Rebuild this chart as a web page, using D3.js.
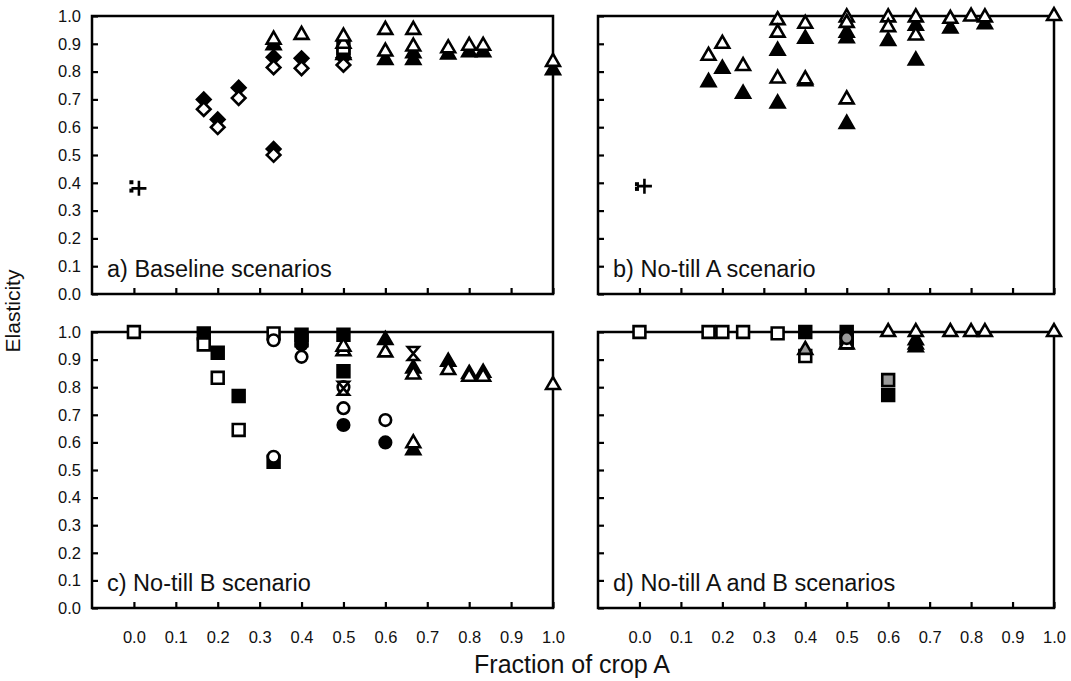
<!DOCTYPE html>
<html>
<head>
<meta charset="utf-8">
<script src="https://cdn.jsdelivr.net/npm/d3@7"></script>
<style>
  body { margin: 0; background: #fff; }
  text { font-family: "Liberation Sans", Arial, Helvetica, sans-serif; fill: #111; }
</style>
</head>
<body>
<div id="chart"></div>
<script>
// tick values shared by all panels
const xTicks = [0, 0.1, 0.2, 0.3, 0.4, 0.5, 0.6, 0.7, 0.8, 0.9, 1.0];
const yTicks = [0, 0.1, 0.2, 0.3, 0.4, 0.5, 0.6, 0.7, 0.8, 0.9, 1.0];

// a) Baseline scenarios
const aSmallSq = [[-0.006, 0.402], [-0.006, 0.372]];
const aPlus = [[0.012, 0.38]];
const aDiaFilled = [[1/6, 0.70], [0.2, 0.628], [0.25, 0.742], [1/3, 0.852], [1/3, 0.522], [0.4, 0.848], [0.5, 0.85]];
const aDiaOpen = [[1/6, 0.665], [0.2, 0.60], [0.25, 0.705], [1/3, 0.815], [1/3, 0.50], [0.4, 0.812], [0.5, 0.824]];
const aTriFilled = [[1/3, 0.895], [0.5, 0.86], [0.6, 0.842], [2/3, 0.866], [2/3, 0.842], [0.75, 0.862], [0.8, 0.87], [5/6, 0.87], [1, 0.805]];
const aSqFilled = [[0.5, 0.868]];
const aSqOpen = [[0.5, 0.885]];
const aTriOpen = [[1/3, 0.915], [0.4, 0.932], [0.5, 0.90], [0.5, 0.926], [0.6, 0.95], [0.6, 0.872], [2/3, 0.95], [2/3, 0.89], [0.75, 0.884], [0.8, 0.893], [5/6, 0.893], [1, 0.835]];

// b) No-till A scenario
const bSmallSq = [[-0.006, 0.395], [-0.006, 0.378]];
const bPlus = [[0.012, 0.388]];
const bTriFilled = [[1/6, 0.762], [0.2, 0.81], [0.25, 0.72], [1/3, 0.875], [1/3, 0.685], [0.4, 0.918], [0.4, 0.765], [0.5, 0.94], [0.5, 0.92], [0.5, 0.612], [0.6, 0.91], [2/3, 0.965], [2/3, 0.84], [0.75, 0.955], [5/6, 0.97]];
const bTriOpen = [[1/6, 0.857], [0.2, 0.90], [0.25, 0.82], [1/3, 0.985], [1/3, 0.94], [1/3, 0.775], [0.4, 0.972], [0.4, 0.772], [0.5, 0.995], [0.5, 0.975], [0.5, 0.70], [0.6, 0.995], [0.6, 0.96], [2/3, 0.995], [2/3, 0.93], [0.75, 0.99], [0.8, 0.998], [5/6, 0.995], [1, 1.0]];

// c) No-till B scenario
const cSqFilled = [[1/6, 0.995], [0.2, 0.925], [0.25, 0.768], [1/3, 0.53], [0.4, 0.99], [0.4, 0.97], [0.5, 0.99], [0.5, 0.858]];
const cSqOpen = [[0, 1.0], [1/6, 0.955], [0.2, 0.834], [0.25, 0.645], [1/3, 0.995]];
const cCircFilled = [[0.4, 0.955], [0.5, 0.663], [0.6, 0.60]];
const cCircOpen = [[1/3, 0.97], [1/3, 0.548], [0.4, 0.91], [0.5, 0.80], [0.5, 0.724], [0.6, 0.681]];
const cTriFilled = [[0.6, 0.971], [2/3, 0.868], [2/3, 0.572], [0.75, 0.892], [0.8, 0.848], [5/6, 0.852]];
const cTriOpen = [[0.5, 0.93], [0.5, 0.947], [0.6, 0.926], [2/3, 0.846], [2/3, 0.597], [0.75, 0.862], [0.8, 0.838], [5/6, 0.838], [1, 0.808]];
const cCross = [[0.5, 0.796], [2/3, 0.922]];

// d) No-till A and B scenarios
const dSqOpen = [[0, 1.0], [1/6, 1.0], [0.2, 1.0], [0.25, 1.0], [1/3, 0.995], [0.4, 0.913], [0.5, 0.962]];
const dSqFilled = [[0.4, 1.0], [0.5, 1.0], [0.5, 0.978], [0.6, 0.772]];
const dSqGrey = [[0.6, 0.826]];
const dTriOpen = [[0.5, 0.955], [0.6, 1.0], [2/3, 1.0], [0.75, 1.0], [0.8, 1.0], [5/6, 1.0], [1, 1.0]];
const dTriFilled = [[2/3, 0.97], [2/3, 0.955], [2/3, 0.945]];
const dTriGrey = [[0.4, 0.935]];
const dCircGrey = [[0.5, 0.978]];

const width = 1071, height = 681;

const svg = d3.select("#chart")
    .append("svg")
    .attr("width", width)
    .attr("height", height);

// marker shapes
function shape(kind) {
    if (kind === "tri") return d3.symbol(d3.symbolTriangle, 82)();
    if (kind === "sq") return d3.symbol(d3.symbolSquare, 140)();
    if (kind === "small") return d3.symbol(d3.symbolSquare, 16)();
    if (kind === "circ") return d3.symbol(d3.symbolCircle, 105)();
    if (kind === "dia") return d3.symbol(d3.symbolSquare, 92)();
    if (kind === "plus") return "M-7.5,0H7.5M0,-7.5V7.5";
    if (kind === "cross") return "M-5.5,-6.5H5.5L-5.5,6.5H5.5Z";
}
const fills = { open: "#fff", filled: "#000", grey: "#9a9a9a" };

const panels = [
    { left: 92, right: 553, top: 16, bottom: 294, title: "a) Baseline scenarios", yLab: true, xLab: false,
      layers: [[aSmallSq, "small", "filled"], [aPlus, "plus", "filled"], [aDiaFilled, "dia", "filled"], [aDiaOpen, "dia", "open"],
               [aTriFilled, "tri", "filled"], [aSqFilled, "sq", "filled"], [aSqOpen, "sq", "open"], [aTriOpen, "tri", "open"]] },
    { left: 598, right: 1054, top: 16, bottom: 294, title: "b) No-till A scenario", yLab: false, xLab: false,
      layers: [[bSmallSq, "small", "filled"], [bPlus, "plus", "filled"], [bTriFilled, "tri", "filled"], [bTriOpen, "tri", "open"]] },
    { left: 92, right: 553, top: 332, bottom: 608, title: "c) No-till B scenario", yLab: true, xLab: true,
      layers: [[cSqFilled, "sq", "filled"], [cSqOpen, "sq", "open"], [cCircFilled, "circ", "filled"], [cCircOpen, "circ", "open"],
               [cTriFilled, "tri", "filled"], [cTriOpen, "tri", "open"], [cCross, "cross", "open"]] },
    { left: 598, right: 1054, top: 332, bottom: 608, title: "d) No-till A and B scenarios", yLab: false, xLab: true,
      layers: [[dSqOpen, "sq", "open"], [dSqFilled, "sq", "filled"], [dSqGrey, "sq", "grey"], [dTriFilled, "tri", "filled"],
               [dTriOpen, "tri", "open"], [dTriGrey, "tri", "grey"], [dCircGrey, "circ", "grey"]] }
];

panels.forEach(p => {
    const x = d3.scaleLinear().domain([-0.1, 1.0]).range([p.left, p.right]);
    const y = d3.scaleLinear().domain([0, 1.0]).range([p.bottom, p.top]);

    const g = svg.append("g");

    // y axis, ticks pointing inward
    const yAx = g.append("g")
        .attr("transform", "translate(" + p.left + ",0)")
        .call(d3.axisLeft(y).tickValues(yTicks).tickSize(-6).tickPadding(11)
            .tickFormat(p.yLab ? d3.format(".1f") : ""));
    yAx.select(".domain").remove();
    yAx.selectAll("line").attr("stroke", "#000").attr("stroke-width", 2.2);
    yAx.selectAll("text").style("font-size", "16.5px").attr("fill", "#111");

    // x axis
    const xAx = g.append("g")
        .attr("transform", "translate(0," + p.bottom + ")")
        .call(d3.axisBottom(x).tickValues(xTicks).tickSize(-6).tickPadding(23)
            .tickFormat(p.xLab ? d3.format(".1f") : ""));
    xAx.select(".domain").remove();
    xAx.selectAll("line").attr("stroke", "#000").attr("stroke-width", 2.2);
    xAx.selectAll("text").style("font-size", "16.5px").attr("fill", "#111");

    // frame
    g.append("rect")
        .attr("x", p.left).attr("y", p.top)
        .attr("width", p.right - p.left).attr("height", p.bottom - p.top)
        .attr("fill", "none").attr("stroke", "#000").attr("stroke-width", 2.5);

    g.append("text")
        .attr("x", p.left + 15)
        .attr("y", p.bottom - 17)
        .style("font-size", "23.5px")
        .text(p.title);

    p.layers.forEach(([data, kind, style]) => {
        g.append("g").selectAll("path")
            .data(data)
            .join("path")
            .attr("d", shape(kind))
            .attr("transform", d => "translate(" + x(d[0]) + "," + y(d[1]) + ")" + (kind === "dia" ? " rotate(45)" : ""))
            .attr("fill", kind === "plus" ? "none" : fills[style])
            .attr("stroke", "#000")
            .attr("stroke-width", kind === "small" ? 0 : 2.6);
    });
});

svg.append("text")
    .attr("transform", "translate(20,311) rotate(-90)")
    .attr("text-anchor", "middle")
    .style("font-size", "21px")
    .text("Elasticity");

svg.append("text")
    .attr("x", 572)
    .attr("y", 673)
    .attr("text-anchor", "middle")
    .style("font-size", "25px")
    .text("Fraction of crop A");
</script>
</body>
</html>
